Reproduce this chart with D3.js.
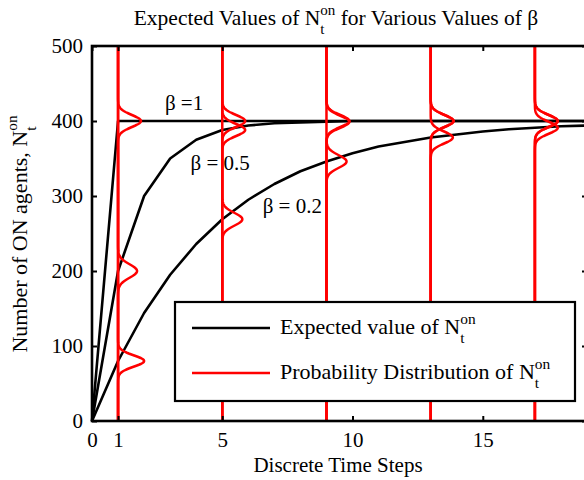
<!DOCTYPE html>
<html>
<head>
<meta charset="utf-8">
<script src="https://cdn.jsdelivr.net/npm/d3@7"></script>
<style>
  html, body { margin: 0; padding: 0; background: #fff; }
  svg { display: block; font-family: "Liberation Serif", "Times New Roman", serif; }
  text { white-space: pre; }
</style>
</head>
<body>
<svg id="chart" width="584" height="480"></svg>
<script>
// time steps and expected N_t^on for each beta
const timeSteps = [0, 1, 2, 3, 4, 5, 6, 7, 8, 9, 10, 11, 12, 13, 14, 15, 16, 17, 18, 19];
const expBeta1  = [0, 400, 400, 400, 400, 400, 400, 400, 400, 400, 400, 400, 400, 400, 400, 400, 400, 400, 400, 400];
const expBeta05 = [0, 200, 300, 350, 375, 388, 394, 397, 398, 399, 400, 400, 400, 400, 400, 400, 400, 400, 400, 400];
const expBeta02 = [0, 80, 144, 195, 236, 269, 295, 316, 333, 346, 357, 366, 372, 378, 382, 386, 389, 391, 393, 394];

// probability distributions drawn at a few time steps
const distTimes   = [1, 5, 9, 13, 17];
const distMeanB1  = [400, 400, 400, 400, 400];
const distMeanB05 = [200, 388, 399, 400, 400];
const distMeanB02 = [80, 269, 346, 378, 391];
const distPeakB1  = [0.88, 0.88, 0.88, 0.88, 0.88];
const distPeakB05 = [0.73, 0.88, 0.88, 0.88, 0.88];
const distPeakB02 = [1.0, 0.77, 0.77, 0.85, 0.88];
const distSdB1  = [8, 8, 8, 8, 8];
const distSdB05 = [9, 8, 8, 8, 8];
const distSdB02 = [7.5, 8.5, 8.5, 8, 8];

const xTicks = [0, 1, 5, 10, 15];
const yTicks = [0, 100, 200, 300, 400, 500];
const betaLabels = ['\u03B2 =1', '\u03B2 = 0.5', '\u03B2 = 0.2'];

const svg = d3.select('#chart');
const x = d3.scaleLinear().domain([0, 19]).range([92, 587]);
const y = d3.scaleLinear().domain([0, 500]).range([421, 46]);

const FS = 21;

function measure(str, size) {
  const t = svg.append('text').attr('font-size', size).text(str);
  const w = t.node().getComputedTextLength();
  t.remove();
  return w;
}

// text with a stacked N^{on}_{t}
function richText(g, px, py, pre, post, anchor, size) {
  const sub = size * 0.7;
  const supW = measure('on', sub), subW = measure('t', sub);
  const t = g.append('text').attr('x', px).attr('y', py)
    .attr('font-size', size).attr('text-anchor', anchor).attr('fill', '#000');
  t.append('tspan').text(pre + 'N');
  t.append('tspan').attr('dy', -0.47 * size).attr('font-size', sub).text('on');
  t.append('tspan').attr('dx', -supW).attr('dy', 0.9 * size).attr('font-size', sub).text('t');
  if (post) t.append('tspan').attr('dx', supW - subW).attr('dy', -0.43 * size).text(post);
  return t;
}

// expected value curves
const line = d3.line().x((d, i) => x(timeSteps[i])).y(d => y(d));
svg.append('g')
  .selectAll('path')
  .data([expBeta1, expBeta05, expBeta02])
  .join('path')
  .attr('d', line)
  .attr('fill', 'none')
  .attr('stroke', '#000')
  .attr('stroke-width', 2.6)
  .attr('stroke-linejoin', 'round');

// distributions: vertical red lines with gaussian bumps
const dists = [];
distTimes.forEach((t, i) => {
  dists.push({ t: t, m: distMeanB1[i], p: distPeakB1[i], s: distSdB1[i] });
  dists.push({ t: t, m: distMeanB05[i], p: distPeakB05[i], s: distSdB05[i] });
  dists.push({ t: t, m: distMeanB02[i], p: distPeakB02[i], s: distSdB02[i] });
});
const nGrid = d3.range(0, 500.5, 1);
const distLine = d3.line().x(d => x(d[0])).y(d => y(d[1]));
svg.append('g')
  .selectAll('path')
  .data(dists)
  .join('path')
  .attr('d', d => distLine(nGrid.map(n => [d.t + d.p * Math.exp(-((n - d.m) ** 2) / (2 * d.s * d.s)), n])))
  .attr('fill', 'none')
  .attr('stroke', '#ff0000')
  .attr('stroke-width', 2.5);

// curve labels
const labelPos = [[2.8, 415], [3.78, 335], [6.55, 277]];
svg.append('g')
  .selectAll('text')
  .data(betaLabels)
  .join('text')
  .attr('x', (d, i) => x(labelPos[i][0]))
  .attr('y', (d, i) => y(labelPos[i][1]))
  .attr('font-size', FS)
  .text(d => d);

// axes: ticks pointing inward, frame drawn as rect
const axG = svg.append('g');
axG.append('g').attr('transform', `translate(${x(0)},0)`)
  .call(d3.axisLeft(y).tickValues(yTicks).tickSize(-5).tickPadding(9));
axG.append('g').attr('transform', `translate(${x(19)},0)`)
  .call(d3.axisRight(y).tickValues(yTicks).tickSize(-5).tickFormat(''));
axG.append('g').attr('transform', `translate(0,${y(0)})`)
  .call(d3.axisBottom(x).tickValues(xTicks).tickSize(-5).tickPadding(11));
axG.append('g').attr('transform', `translate(0,${y(500)})`)
  .call(d3.axisTop(x).tickValues(xTicks).tickSize(-5).tickFormat(''));
axG.selectAll('.domain').remove();
axG.selectAll('.tick line').attr('stroke', '#000').attr('stroke-width', 2);
axG.selectAll('.tick text').attr('fill', '#000').attr('font-size', FS)
  .attr('font-family', '"Liberation Serif", "Times New Roman", serif');
svg.append('rect')
  .attr('x', x(0)).attr('y', y(500))
  .attr('width', x(19) - x(0)).attr('height', y(0) - y(500))
  .attr('fill', 'none').attr('stroke', '#000').attr('stroke-width', 2.6);

// titles
richText(svg, 336, 25, 'Expected Values of ', ' for Various Values of \u03B2', 'middle', 21.5);
svg.append('text').attr('x', 338).attr('y', 472).attr('font-size', FS)
  .attr('text-anchor', 'middle').text('Discrete Time Steps');
const yl = svg.append('g').attr('transform', 'translate(27,234) rotate(-90)');
richText(yl, 0, 0, 'Number of ON agents, ', '', 'middle', 22);

// legend
const leg = svg.append('g');
leg.append('rect').attr('x', 175).attr('y', 302).attr('width', 400).attr('height', 99)
  .attr('fill', '#fff').attr('stroke', '#000').attr('stroke-width', 2.2);
const legItems = [
  { color: '#000', pre: 'Expected value of ', yy: 328 },
  { color: '#ff0000', pre: 'Probability Distribution of ', yy: 373 }
];
legItems.forEach(it => {
  leg.append('line').attr('x1', 192).attr('x2', 270).attr('y1', it.yy).attr('y2', it.yy)
    .attr('stroke', it.color).attr('stroke-width', 2.6);
  richText(leg, 280, it.yy + 6, it.pre, '', 'start', 22);
});
</script>
</body>
</html>
